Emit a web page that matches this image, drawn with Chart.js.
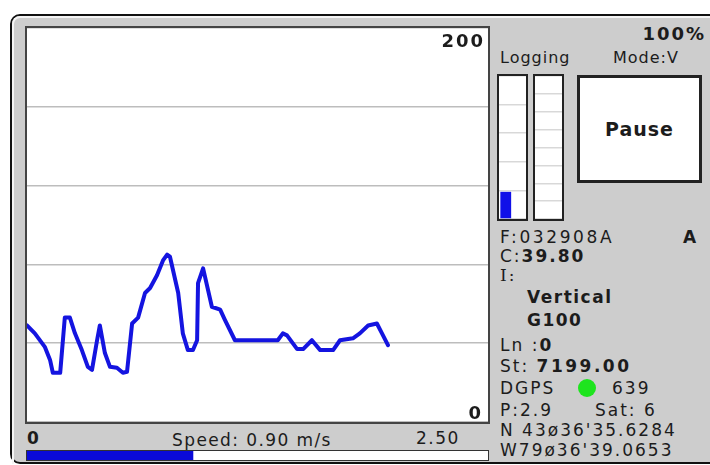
<!DOCTYPE html>
<html>
<head>
<meta charset="utf-8">
<script src="https://cdn.jsdelivr.net/npm/chart.js@4.4.1/dist/chart.umd.min.js"></script>
<style>
  html, body { margin: 0; padding: 0; background: #fff; width: 710px; height: 465px; overflow: hidden; }
  body { position: relative; font-family: "DejaVu Sans", Verdana, sans-serif; color: #1c1c1c; }
  .abs { position: absolute; }
  #frame { left: 10px; top: 14px; width: 712px; height: 446px; border: 2px solid #111; border-radius: 10px; background: #cdcdcd; box-sizing: content-box; }
  #bevel { left: 12px; top: 16px; width: 710px; height: 446px; border-top: 2px solid #f4f4f4; border-left: 2px solid #f4f4f4; border-top-left-radius: 8px; }
  #plotBox { left: 25px; top: 26px; width: 461px; height: 394px; border: 2px solid #444; background: #fff; }
  #plotWrap { left: 27px; top: 28px; width: 461px; height: 394px; }
  .gauge { top: 74px; width: 27px; height: 143px; border: 2px solid #222; background: #fff; }
  .gwrap { position: absolute; left: 0; top: 0; width: 27px; height: 143px; }
  #pause { left: 577px; top: 75px; width: 119px; height: 102px; border: 3px solid #222; background: #fff;
           display: flex; align-items: center; justify-content: center; font-weight: bold; font-size: 19px; letter-spacing: 1px; }
  .t { position: absolute; font-size: 17px; line-height: 20px; height: 20px; white-space: nowrap; letter-spacing: 2px; }
  .b { font-weight: bold; }
  #speedBox { left: 26px; top: 450px; width: 461px; height: 9px; border: 1px solid #333; background: #fff; }
  #speedWrap { position: absolute; left: 0; top: 0; width: 461px; height: 9px; }
  #dot { left: 578px; top: 379px; width: 18px; height: 18px; border-radius: 50%; background: #1ee41e; }
</style>
</head>
<body>
<div id="frame" class="abs"></div>
<div id="bevel" class="abs"></div>
<div id="plotBox" class="abs"></div>
<div id="plotWrap" class="abs"><canvas id="plot"></canvas></div>

<div class="t b" style="right:4px; top:24px; font-size:18px; letter-spacing:2px;">100%</div>
<div class="t" style="left:500px; top:48px; font-size:16px; letter-spacing:1px;">Logging</div>
<div class="t" style="left:613px; top:48px; font-size:16px; letter-spacing:1px;">Mode:V</div>

<div class="gauge abs" style="left:497px;"><div class="gwrap"><canvas id="gauge1"></canvas></div></div>
<div class="gauge abs" style="left:533px;"><div class="gwrap"><canvas id="gauge2"></canvas></div></div>
<div id="pause" class="abs">Pause</div>

<div class="t" style="left:500px; top:227px; letter-spacing:2.6px;">F:032908A</div>
<div class="t b" style="left:683px; top:227px; letter-spacing:0;">A</div>
<div class="t" style="left:500px; top:246px;">C:<span class="b">39.80</span></div>
<div class="t" style="left:500px; top:265px; font-family:'DejaVu Serif', serif;">I:</div>
<div class="t b" style="left:527px; top:287px; letter-spacing:1.5px;">Vertical</div>
<div class="t b" style="left:527px; top:310px; letter-spacing:1.5px;">G100</div>
<div class="t" style="left:500px; top:335px;">Ln :<span class="b">0</span></div>
<div class="t" style="left:500px; top:356px;">St: <span class="b" style="letter-spacing:2.5px;">7199.00</span></div>
<div class="t" style="left:500px; top:378px;">DGPS</div>
<div id="dot" class="abs"></div>
<div class="t" style="left:612px; top:378px;">639</div>
<div class="t" style="left:500px; top:400px;">P:2.9</div>
<div class="t" style="left:595px; top:400px;">Sat: 6</div>
<div class="t" style="left:500px; top:420px;">N 43ø36'35.6284</div>
<div class="t" style="left:500px; top:440px;">W79ø36'39.0653</div>

<div id="speedMinLbl" class="t b" style="left:27px; top:428px; letter-spacing:0;"></div>
<div id="speedLbl" class="t" style="left:172px; top:430px; letter-spacing:1.4px;"></div>
<div id="speedMaxLbl" class="t" style="left:416px; top:428px; letter-spacing:1.5px;"></div>
<div id="speedBox" class="abs"><div id="speedWrap"><canvas id="speed"></canvas></div></div>

<script>
// ---- data ----
const sampleX = [0, 1.7, 3.9, 5.0, 5.6, 7.2, 8.2, 9.3, 10.4, 11.9, 13.2, 14.1, 15.2, 15.8, 16.9, 18.0, 19.5, 20.8, 21.7, 22.8, 24.1, 25.6, 26.7, 28.2, 29.5, 30.4, 31.0, 32.8, 33.8, 34.9, 36.0, 36.9, 37.1, 38.2, 40.1, 41.9, 42.9, 45.1, 54.4, 55.5, 56.4, 58.6, 59.9, 61.8, 63.6, 66.4, 67.9, 70.7, 72.2, 74.0, 75.9, 77.0, 78.3];
const traceValues = [49, 45, 38, 31.5, 25, 25, 53, 53, 45, 36.5, 28, 26.5, 41.5, 49, 35, 28, 27.5, 25, 25.5, 50, 53, 65.5, 68, 74.5, 82, 85, 84, 65.5, 45, 36.5, 36.5, 41.5, 70.5, 78, 58.5, 57, 52, 41.5, 41.5, 45, 44, 37, 37, 41.5, 36.5, 36.5, 41.5, 42.5, 45, 49, 50, 45, 39];
const xMin = 0, xMax = 100;
const yMin = 0, yMax = 200, yStep = 40;
const yTickLabels = ["0", "200"];
const loggingChannels = ["L", "R"];
const loggingLevels = [0.95, 0];
const loggingMax = 5;
const bufferChannels = ["B"];
const bufferLevels = [0];
const bufferMax = 8;
const speedValue = 0.90;
const speedMin = 0;
const speedMax = 2.50;
const speedUnit = "m/s";

// ---- labels from data ----
document.getElementById('speedMinLbl').textContent = String(speedMin);
document.getElementById('speedLbl').textContent = 'Speed: ' + speedValue.toFixed(2) + ' ' + speedUnit;
document.getElementById('speedMaxLbl').textContent = speedMax.toFixed(2);

const FONT = '"DejaVu Sans", Verdana, sans-serif';

const endLabels = {
  id: 'endLabels',
  afterDraw(chart) {
    const y = chart.scales.y, ctx = chart.ctx, area = chart.chartArea;
    ctx.save();
    ctx.fillStyle = '#1c1c1c';
    ctx.font = 'bold 18px ' + FONT;
    ctx.textAlign = 'right';
    ctx.textBaseline = 'middle';
    if ('letterSpacing' in ctx) ctx.letterSpacing = '2px';
    ctx.fillText(yTickLabels[1], area.right - 3, y.getPixelForValue(yMax) + 14);
    ctx.fillText(yTickLabels[0], area.right - 5, y.getPixelForValue(yMin) - 8);
    ctx.restore();
  }
};

new Chart(document.getElementById('plot'), {
  type: 'line',
  data: {
    datasets: [{
      data: sampleX.map((x, i) => ({ x: x, y: traceValues[i] })),
      borderColor: '#1414e0',
      borderWidth: 4,
      pointRadius: 0,
      tension: 0,
      fill: false,
      borderJoinStyle: 'round',
      borderCapStyle: 'round'
    }]
  },
  options: {
    responsive: true,
    maintainAspectRatio: false,
    animation: false,
    layout: { padding: 0 },
    plugins: { legend: { display: false }, tooltip: { enabled: false } },
    scales: {
      x: { type: 'linear', min: xMin, max: xMax, display: false },
      y: {
        min: yMin, max: yMax,
        ticks: { stepSize: yStep, display: false },
        grid: { color: '#bdbdbd', lineWidth: 1.5, drawTicks: false },
        border: { display: false },
        afterFit(s) { s.width = 0; }
      }
    }
  },
  plugins: [endLabels]
});

function gauge(id, labels, values, max, barColor) {
  new Chart(document.getElementById(id), {
    type: 'bar',
    data: { labels: labels, datasets: [{ data: values, backgroundColor: barColor, borderWidth: 0, barPercentage: 0.8, categoryPercentage: 1 }] },
    options: {
      responsive: true, maintainAspectRatio: false, animation: false,
      layout: { padding: 0 },
      plugins: { legend: { display: false }, tooltip: { enabled: false } },
      scales: {
        x: { display: false },
        y: {
          min: 0, max: max,
          ticks: { stepSize: 1, display: false },
          grid: { color: '#d8d8d8', lineWidth: 1.5, drawTicks: false },
          border: { display: false },
          afterFit(s) { s.width = 0; }
        }
      }
    }
  });
}
gauge('gauge1', loggingChannels, loggingLevels, loggingMax, '#1010e8');
gauge('gauge2', bufferChannels, bufferLevels, bufferMax, '#1010e8');

new Chart(document.getElementById('speed'), {
  type: 'bar',
  data: { labels: ['speed'], datasets: [{ data: [speedValue], backgroundColor: '#0a0ad8', borderWidth: 0, barPercentage: 1, categoryPercentage: 1 }] },
  options: {
    indexAxis: 'y',
    responsive: true, maintainAspectRatio: false, animation: false,
    layout: { padding: 0 },
    plugins: { legend: { display: false }, tooltip: { enabled: false } },
    scales: {
      x: { min: speedMin, max: speedMax, display: false },
      y: { display: false }
    }
  }
});
</script>
</body>
</html>
